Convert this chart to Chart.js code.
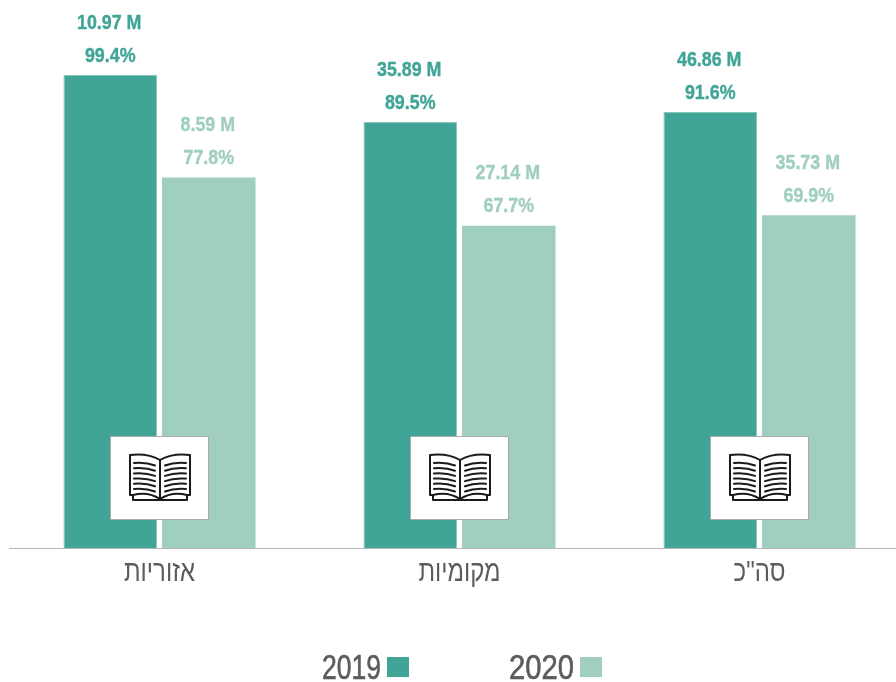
<!DOCTYPE html>
<html lang="he">
<head>
<meta charset="utf-8">
<title>2019 / 2020</title>
<script src="https://cdn.jsdelivr.net/npm/chart.js@4"></script>
<style>
    html, body { margin: 0; padding: 0; background: #fff; overflow: hidden; }
    #wrap { width: 896px; height: 682px; overflow: hidden; }
</style>
</head>
<body>
<div id="wrap">
    <canvas id="chart" width="912" height="682"></canvas>
</div>
<script>
const categories = ['אזוריות', 'מקומיות', 'סה"כ'];
const years = ['2019', '2020'];
const percent2019 = [99.4, 89.5, 91.6];
const percent2020 = [77.8, 67.7, 69.9];
const millions2019 = ['10.97 M', '35.89 M', '46.86 M'];
const millions2020 = ['8.59 M', '27.14 M', '35.73 M'];

const DARK = '#40a596';
const LIGHT = '#a0cec1';
const GREY = '#5c5c5c';
const FONT = '"Liberation Sans", sans-serif';

// no condensed font is installed, so squeeze the text horizontally
function narrowText(ctx, text, x, y, squeeze, outline) {
    ctx.save();
    ctx.translate(x, y);
    ctx.scale(squeeze, 1);
    if (outline) {
        // the original face is a bit heavier than the regular weight here
        ctx.strokeStyle = ctx.fillStyle;
        ctx.lineWidth = outline;
        ctx.strokeText(text, 0, 0);
    }
    ctx.fillText(text, 0, 0);
    ctx.restore();
}

// two lines of text above every bar
const barLabels = {
    id: 'barLabels',
    afterDatasetsDraw(chart) {
        const ctx = chart.ctx;
        ctx.save();
        ctx.textAlign = 'center';
        ctx.textBaseline = 'middle';
        ctx.font = 'bold 21px ' + FONT;
        chart.data.datasets.forEach((ds, d) => {
            ctx.fillStyle = ds.backgroundColor;
            chart.getDatasetMeta(d).data.forEach((bar, i) => {
                narrowText(ctx, ds.millions[i], bar.x - 1, bar.y - 52, 0.85, 0.4);
                narrowText(ctx, ds.data[i] + '%', bar.x, bar.y - 19, 0.85, 0.4);
            });
        });
        ctx.restore();
    }
};

// category names under the axis
const categoryLabels = {
    id: 'categoryLabels',
    afterDraw(chart) {
        const ctx = chart.ctx;
        const x = chart.scales.x;
        ctx.save();
        ctx.textAlign = 'center';
        ctx.textBaseline = 'middle';
        ctx.font = '30px ' + FONT;
        ctx.fillStyle = GREY;
        chart.data.labels.forEach((label, i) => {
            narrowText(ctx, label, x.getPixelForValue(i), x.top + 25, 0.8);
        });
        ctx.restore();
    }
};

// legend row, text sits left of its colour box
const yearLegend = {
    id: 'yearLegend',
    afterDraw(chart) {
        const ctx = chart.ctx;
        ctx.save();
        ctx.textAlign = 'left';
        ctx.textBaseline = 'middle';
        ctx.font = '35px ' + FONT;
        chart.data.datasets.forEach((ds, i) => {
            const left = i === 0 ? 322 : 509;
            const textWidth = i === 0 ? 59 : 65;
            const squeeze = textWidth / ctx.measureText(ds.label).width;
            ctx.fillStyle = GREY;
            narrowText(ctx, ds.label, left, 669, squeeze, 0.6);
            ctx.fillStyle = ds.backgroundColor;
            ctx.fillRect(left + textWidth + 6, 657, 22, 20);
        });
        ctx.restore();
    }
};

// white box with an open book, sitting across each pair of bars
const bookIcons = {
    id: 'bookIcons',
    afterDatasetsDraw(chart) {
        const ctx = chart.ctx;
        const bottom = chart.scales.y.bottom;
        categories.forEach((c, i) => {
            const cx = chart.scales.x.getPixelForValue(i);
            const cy = bottom - 70;
            ctx.save();
            ctx.translate(Math.round(cx), cy);
            ctx.fillStyle = '#fff';
            ctx.strokeStyle = '#aaa';
            ctx.lineWidth = 1;
            ctx.fillRect(-49.5, -41.5, 98, 83);
            ctx.strokeRect(-49.5, -41.5, 98, 83);

            ctx.strokeStyle = '#1a1a1a';
            ctx.lineWidth = 2;
            ctx.lineCap = 'round';
            ctx.lineJoin = 'round';
            [-1, 1].forEach(s => {
                // page outline
                ctx.beginPath();
                ctx.moveTo(0, -18);
                ctx.quadraticCurveTo(s * 12, -25, s * 30, -23);
                ctx.lineTo(s * 30, 17);
                ctx.lineTo(s * 27, 17);
                ctx.lineTo(s * 27, 22);
                ctx.lineTo(0, 22);
                ctx.stroke();
                // lower page edge
                ctx.beginPath();
                ctx.moveTo(s * 27, 17);
                ctx.quadraticCurveTo(s * 12, 13, 0, 21);
                ctx.stroke();
                // text lines
                for (let n = 0; n < 6; n++) {
                    const y = -14 + n * 5.2;
                    ctx.beginPath();
                    ctx.moveTo(s * 5, y + 1.5);
                    ctx.quadraticCurveTo(s * 14, y - 2, s * 26, y - 1);
                    ctx.stroke();
                }
            });
            ctx.beginPath();
            ctx.moveTo(0, -18);
            ctx.lineTo(0, 22);
            ctx.stroke();
            ctx.restore();
        });
    }
};

new Chart(document.getElementById('chart').getContext('2d'), {
    type: 'bar',
    data: {
        labels: categories,
        datasets: [
            { label: years[0], data: percent2019, millions: millions2019, backgroundColor: DARK,
              borderColor: '#8cc8ba', borderWidth: { top: 1, left: 1, right: 1, bottom: 0 }, borderSkipped: false },
            { label: years[1], data: percent2020, millions: millions2020, backgroundColor: LIGHT }
        ]
    },
    options: {
        responsive: false,
        animation: false,
        layout: { padding: { left: 9.5, right: 2.5, top: 0, bottom: 0 } },
        categoryPercentage: 0.657,
        barPercentage: 0.949,
        scales: {
            x: {
                grid: { display: false, drawTicks: false },
                border: { color: '#b5b5b5', width: 1 },
                ticks: { display: false },
                afterFit(scale) { scale.height = 134; }
            },
            y: { display: false, min: 0, max: 115.1 }
        },
        plugins: { legend: { display: false }, tooltip: { enabled: false } }
    },
    plugins: [barLabels, bookIcons, categoryLabels, yearLegend]
});
</script>
</body>
</html>
